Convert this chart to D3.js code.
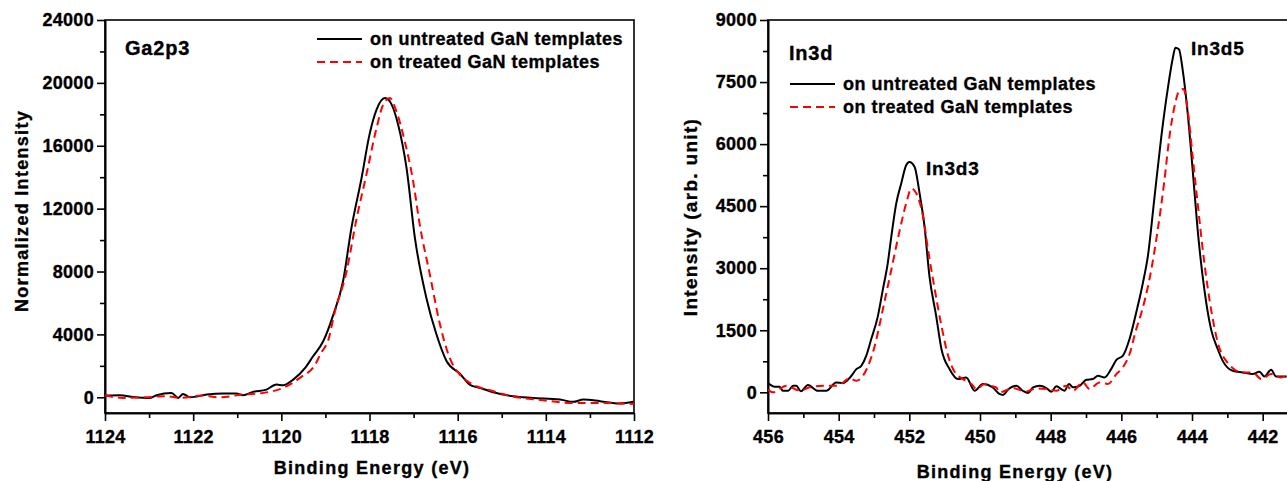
<!DOCTYPE html>
<html>
<head>
<meta charset="utf-8">
<script src="https://cdn.jsdelivr.net/npm/d3@7"></script>
<style>
  body { margin: 0; background: #fff; }
  svg text { font-family: "Liberation Sans", Arial, sans-serif; font-weight: bold; fill: #000; stroke: #000; stroke-width: 0.35px; }
  .axis path, .axis line { stroke: #000; stroke-width: 1.6; }
  .axis text { font-size: 18px; letter-spacing: 0.3px; }
</style>
</head>
<body>
<svg width="1287" height="481"></svg>
<script>
const svg = d3.select('svg');

// Ga2p3 spectra: [binding energy (eV), normalized intensity]
const gaUntreated = [
  [1124.0, 108], [1123.66, 127], [1123.36, 25], [1122.98, -38], [1122.83, 127],
  [1122.49, 280], [1122.34, -38], [1122.23, 216], [1122.07, 0], [1121.69, 170],
  [1121.32, 235], [1121.02, 235], [1120.87, 127], [1120.64, 343], [1120.34, 490],
  [1120.11, 808], [1119.96, 765], [1119.73, 1126], [1119.46, 1870], [1119.28, 2608],
  [1119.05, 3562], [1118.82, 5260], [1118.6, 7380], [1118.41, 10770], [1118.18, 13950],
  [1118.0, 16710], [1117.84, 18300], [1117.65, 19040], [1117.54, 18830], [1117.35, 17340],
  [1117.16, 14590], [1116.97, 10140], [1116.71, 6320], [1116.48, 3990], [1116.25, 2290],
  [1115.95, 1500], [1115.72, 790], [1115.5, 600], [1115.19, 320], [1114.74, 64],
  [1114.29, -40], [1113.68, -146], [1113.38, -290], [1113.15, -146], [1112.77, -250],
  [1112.32, -400], [1112.02, -290]
];
const gaTreated = [
  [1124.0, 127], [1123.6, -38], [1123.1, 0], [1122.6, 64], [1122.3, -38],
  [1121.8, 108], [1121.4, 0], [1120.9, 170], [1120.4, 280], [1119.96, 600],
  [1119.58, 1234], [1119.21, 2190], [1119.12, 2716], [1118.91, 3880], [1118.82, 5050],
  [1118.52, 8014], [1118.29, 11410], [1118.07, 14165], [1117.84, 17130], [1117.69, 18615],
  [1117.54, 19040], [1117.39, 18190], [1117.2, 16280], [1117.01, 13740], [1116.86, 10980],
  [1116.63, 7800], [1116.4, 4620], [1116.18, 2500], [1115.95, 1444], [1115.72, 915],
  [1115.19, 382], [1114.66, 0], [1114.2, -146], [1113.38, -360], [1112.77, -360],
  [1112.0, -420]
];

// In3d spectra: [binding energy (eV), intensity]
const inUntreated = [
  [456.0, 224], [455.81, 135], [455.67, 135], [455.58, 38], [455.43, 38], [455.29, 159],
  [455.2, 159], [455.07, 24], [454.87, 175], [454.59, 38], [454.35, 38], [454.07, 240],
  [453.88, 224], [453.64, 400], [453.5, 560], [453.36, 640], [453.22, 880], [453.08, 1281],
  [452.89, 1842], [452.75, 2483], [452.61, 3125], [452.51, 3765], [452.37, 4567], [452.23, 5048],
  [452.09, 5488], [452.0, 5568], [451.85, 5448], [451.71, 4808], [451.57, 4005], [451.43, 2803],
  [451.24, 1842], [451.09, 1041], [450.86, 560], [450.62, 320], [450.39, 360], [450.15, 38],
  [449.92, 200], [449.64, 120], [449.45, -40], [449.35, -65], [449.21, 64], [448.97, 159],
  [448.79, 38], [448.64, -17], [448.5, 120], [448.31, 159], [448.12, 103], [447.98, 16],
  [447.84, 144], [447.61, 38], [447.48, 200], [447.37, 120], [447.18, 159], [446.99, 303],
  [446.81, 320], [446.66, 400], [446.48, 360], [446.29, 560], [446.14, 784], [445.96, 880],
  [445.77, 1281], [445.58, 1923], [445.39, 2644], [445.25, 3284], [445.06, 4727], [444.87, 6170],
  [444.68, 7370], [444.54, 8092], [444.47, 8332], [444.37, 8293], [444.26, 7772], [444.12, 6731],
  [443.98, 5368], [443.84, 3926], [443.65, 2483], [443.46, 1522], [443.27, 1041], [443.13, 760],
  [442.85, 520], [442.56, 480], [442.28, 440], [442.09, 496], [441.95, 384], [441.76, 544],
  [441.62, 384], [441.32, 384]
];
const inTreated = [
  [456.0, 64], [455.86, 0], [455.48, 159], [455.1, 38], [454.82, 120], [454.44, 159],
  [454.07, 159], [453.97, 183], [453.69, 336], [453.5, 280], [453.22, 540], [452.98, 1121],
  [452.75, 2003], [452.51, 2964], [452.27, 3926], [452.09, 4567], [451.94, 4928], [451.76, 4727],
  [451.61, 4245], [451.47, 3445], [451.28, 2483], [451.09, 1601], [450.9, 880], [450.71, 480],
  [450.48, 320], [450.24, 200], [450.1, 80], [449.87, 200], [449.73, 159], [449.54, 120],
  [449.45, 0], [449.07, 100], [448.69, 20], [448.41, 96], [448.12, 80], [447.84, 38],
  [447.56, 159], [447.37, 38], [447.09, 240], [446.9, 80], [446.62, 240], [446.38, 200],
  [446.14, 440], [445.96, 600], [445.77, 920], [445.58, 1522], [445.44, 1900], [445.2, 2750],
  [444.97, 3926], [444.78, 5128], [444.64, 6170], [444.5, 6890], [444.36, 7291], [444.24, 7332],
  [444.12, 6811], [443.98, 5688], [443.84, 4567], [443.65, 3125], [443.46, 2003], [443.27, 1202],
  [443.0, 721], [442.56, 480], [442.28, 480], [442.04, 320], [441.76, 440], [441.48, 360],
  [441.33, 400]
];

const legendLabels = ['on untreated GaN templates', 'on treated GaN templates'];
const gaXTicks = [1124, 1122, 1120, 1118, 1116, 1114, 1112];
const gaYTicks = [0, 4000, 8000, 12000, 16000, 20000, 24000];
const inXTicks = [456, 454, 452, 450, 448, 446, 444, 442];
const inYTicks = [0, 1500, 3000, 4500, 6000, 7500, 9000];

function drawPanel(p) {
  const x = d3.scaleLinear().domain(p.xDomain).range([p.left, p.right]);
  const y = d3.scaleLinear().domain(p.yDomain).range([p.bottom, p.top]);

  // frame
  svg.append('rect')
    .attr('x', p.left).attr('y', p.top)
    .attr('width', p.right - p.left).attr('height', p.bottom - p.top)
    .attr('fill', 'none').attr('stroke', '#000').attr('stroke-width', 1.6);

  // minor ticks
  svg.append('g').attr('class', 'axis')
    .attr('transform', `translate(0,${p.bottom})`)
    .call(d3.axisBottom(x).tickValues(p.xMinor).tickSize(5).tickSizeOuter(0).tickFormat(''));
  svg.append('g').attr('class', 'axis')
    .attr('transform', `translate(${p.left},0)`)
    .call(d3.axisLeft(y).tickValues(p.yMinor).tickSize(5).tickSizeOuter(0).tickFormat(''));

  // major ticks
  svg.append('g').attr('class', 'axis')
    .attr('transform', `translate(0,${p.bottom})`)
    .call(d3.axisBottom(x).tickValues(p.xTicks).tickSize(8).tickSizeOuter(0).tickPadding(9).tickFormat(d3.format('d')));
  svg.append('g').attr('class', 'axis')
    .attr('transform', `translate(${p.left},0)`)
    .call(d3.axisLeft(y).tickValues(p.yTicks).tickSize(8).tickSizeOuter(0).tickPadding(3).tickFormat(d3.format('d')));

  const line = d3.line().x(d => x(d[0])).y(d => y(d[1])).curve(d3.curveMonotoneX);
  svg.append('path').datum(p.black).attr('d', line)
    .attr('fill', 'none').attr('stroke', '#000').attr('stroke-width', 2);
  svg.append('path').datum(p.red).attr('d', line)
    .attr('fill', 'none').attr('stroke', '#ff0000').attr('stroke-width', 2)
    .attr('stroke-dasharray', '8,5');

  // legend
  const lg = svg.append('g').attr('transform', `translate(${p.legendX},${p.legendY})`);
  legendLabels.forEach((t, i) => {
    lg.append('line')
      .attr('x1', 0).attr('x2', 45).attr('y1', i * 23).attr('y2', i * 23)
      .attr('stroke', i ? '#ff0000' : '#000').attr('stroke-width', 2)
      .attr('stroke-dasharray', i ? '8,5' : null);
    lg.append('text').attr('x', 53).attr('y', i * 23 + 6)
      .style('font-size', '18px').style('letter-spacing', '0.5px').text(t);
  });

  // axis titles
  svg.append('text')
    .attr('x', p.xTitleX).attr('y', p.xTitleY)
    .attr('text-anchor', 'middle')
    .style('font-size', '18px').style('letter-spacing', '1.3px')
    .text('Binding Energy (eV)');
  svg.append('text')
    .attr('transform', `translate(${p.yTitleX},${p.yTitleY}) rotate(-90)`)
    .attr('text-anchor', 'middle')
    .style('font-size', p.yTitleSize + 'px').style('letter-spacing', '1.3px')
    .text(p.yTitle);

  p.labels.forEach(l => {
    svg.append('text').attr('x', l.x).attr('y', l.y)
      .style('font-size', l.size + 'px').style('letter-spacing', '0.8px').text(l.text);
  });
}

drawPanel({
  xDomain: [1124, 1112], yDomain: [-1000, 24000],
  left: 105, right: 634, top: 20, bottom: 413,
  xTicks: gaXTicks, yTicks: gaYTicks,
  xMinor: d3.range(1123, 1112, -2), yMinor: d3.range(2000, 24000, 4000),
  black: gaUntreated, red: gaTreated,
  legendX: 317, legendY: 39,
  xTitleX: 372, xTitleY: 474, yTitleX: 28, yTitleY: 211, yTitleSize: 18,
  yTitle: 'Normalized Intensity',
  labels: [{ text: 'Ga2p3', x: 125, y: 55, size: 20 }]
});

drawPanel({
  xDomain: [456, 441], yDomain: [-500, 9000],
  left: 768, right: 1298, top: 20, bottom: 413,
  xTicks: inXTicks, yTicks: inYTicks,
  xMinor: d3.range(455, 441, -2), yMinor: d3.range(750, 9000, 1500),
  black: inUntreated, red: inTreated,
  legendX: 790, legendY: 84,
  xTitleX: 1015, xTitleY: 478, yTitleX: 697, yTitleY: 217, yTitleSize: 19,
  yTitle: 'Intensity (arb. unit)',
  labels: [
    { text: 'In3d', x: 789, y: 60, size: 20 },
    { text: 'In3d3', x: 926, y: 175, size: 19 },
    { text: 'In3d5', x: 1191, y: 55, size: 19 }
  ]
});
</script>
</body>
</html>
